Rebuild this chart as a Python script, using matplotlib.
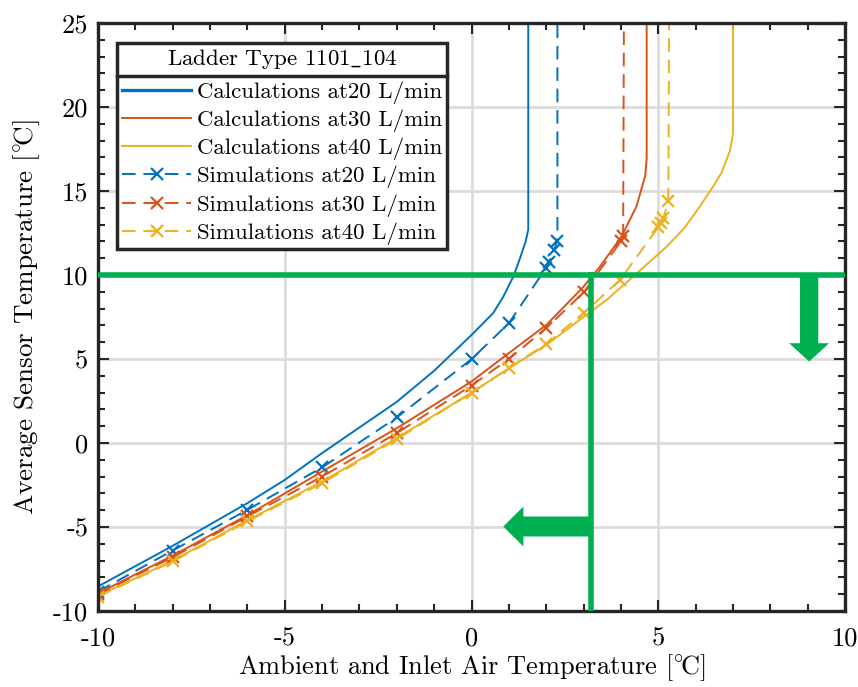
import numpy as np
import matplotlib.pyplot as plt
from matplotlib.patches import FancyArrow
from matplotlib.lines import Line2D

plt.rcParams['font.family'] = 'serif'
plt.rcParams['font.serif'] = ['cmr10']
plt.rcParams['mathtext.fontset'] = 'cm'
plt.rcParams['axes.unicode_minus'] = False

# Calculations (solid lines)
calc20_x = [-10, -8, -6, -5, -4, -2, -1, 0, 0.58, 0.85, 1.12, 1.3, 1.45, 1.52, 1.52]
calc20_y = [-8.54, -6.12, -3.58, -2.2, -0.6, 2.45, 4.3, 6.43, 7.73, 8.7, 9.91, 11.0, 12.0, 12.7, 25]
calc30_x = [-10, -8, -6, -4, -2, 0, 0.94, 2.01, 2.99, 3.44, 4.02, 4.42, 4.65, 4.69, 4.69]
calc30_y = [-8.95, -6.7, -4.3, -1.7, 0.88, 3.66, 5.25, 7.04, 9.28, 10.5, 12.3, 14.1, 15.9, 16.9, 25]
calc40_x = [-10, -8, -6, -4, -2, 0, 0.94, 2.01, 3.08, 3.62, 4.33, 5.23, 5.7, 6.12, 6.45, 6.7, 6.92, 7.0, 7.0]
calc40_y = [-9.1, -7.0, -4.6, -2.3, 0.3, 3.0, 4.36, 5.85, 7.63, 8.52, 9.91, 11.7, 12.8, 14.1, 15.2, 16.1, 17.4, 18.4, 25]

# Simulations (dashed lines with markers), last point = vertical extension
sim20_x = [-10, -8, -6, -4, -2, 0, 1, 1.99, 2.08, 2.21, 2.3, 2.3]
sim20_y = [-8.84, -6.4, -3.98, -1.45, 1.52, 4.99, 7.13, 10.4, 10.8, 11.5, 12.05, 25]
sim30_x = [-10, -8, -6, -4, -2, 0, 1, 2, 3, 4.0, 4.06, 4.08]
sim30_y = [-9.0, -6.8, -4.37, -2.0, 0.59, 3.42, 5.0, 6.84, 8.96, 12.0, 12.3, 25]
sim40_x = [-10, -8, -6, -4, -2, 0, 1, 2, 3, 3.98, 5.0, 5.07, 5.14, 5.27, 5.29]
sim40_y = [-9.15, -7.05, -4.67, -2.39, 0.23, 2.97, 4.46, 5.9, 7.73, 9.71, 12.85, 13.1, 13.4, 14.4, 25]

labels = ['Calculations at20 L/min', 'Calculations at30 L/min', 'Calculations at40 L/min',
          'Simulations at20 L/min', 'Simulations at30 L/min', 'Simulations at40 L/min']

# green guide lines and arrows
guide_h_x = [-10, 10]
guide_h_y = [10, 10]
guide_v_x = [3.2, 3.2]
guide_v_y = [10, -10]
arrow_down = (9.04, 10, 4.85)    # x, y start, y end
arrow_left = (3.2, -4.97, 0.85)  # x start, y, x end

x_ticks = [-10, -5, 0, 5, 10]
y_ticks = [-10, -5, 0, 5, 10, 15, 20, 25]

c20 = '#0072BD'
c30 = '#D95319'
c40 = '#EDB120'
green = '#00B050'

fig = plt.figure(figsize=(8.58, 6.87), dpi=100)
ax = fig.add_axes([98 / 858, 1 - 611 / 687, 747 / 858, 588 / 687])

h = []
for xs, ys, c in [(calc20_x, calc20_y, c20), (calc30_x, calc30_y, c30), (calc40_x, calc40_y, c40)]:
    l, = ax.plot(xs, ys, color=c, lw=1.4)
    h.append(l)
for xs, ys, c in [(sim20_x, sim20_y, c20), (sim30_x, sim30_y, c30), (sim40_x, sim40_y, c40)]:
    l, = ax.plot(xs, ys, color=c, lw=1.4, dashes=(7, 4), marker='x', ms=9, mew=1.6,
                 markevery=list(range(len(xs) - 1)))
    h.append(l)

ax.plot(guide_h_x, guide_h_y, color=green, lw=4, zorder=5)
ax.plot(guide_v_x, guide_v_y, color=green, lw=4, zorder=5)
ax.add_patch(FancyArrow(arrow_down[0], arrow_down[1], 0, arrow_down[2] - arrow_down[1],
                        width=0.49, head_width=1.07, head_length=1.09,
                        length_includes_head=True, color=green, lw=0, zorder=6))
ax.add_patch(FancyArrow(arrow_left[0], arrow_left[1], arrow_left[2] - arrow_left[0], 0,
                        width=1.19, head_width=2.38, head_length=0.54,
                        length_includes_head=True, color=green, lw=0, zorder=6))

ax.set_xlim(-10, 10)
ax.set_ylim(-10, 25)
ax.set_xticks(x_ticks)
ax.set_xticklabels([str(v) for v in x_ticks])
ax.set_yticks(y_ticks)
ax.set_yticklabels([str(v) for v in y_ticks])
ax.set_xticks(np.arange(-10, 11, 1), minor=True)
ax.set_yticks(np.arange(-10, 26, 1), minor=True)
ax.tick_params(which='both', direction='in', top=True, right=True, width=1.5, color='#262626')
ax.tick_params(which='major', length=8, labelsize=19)
ax.tick_params(which='minor', length=5)
ax.tick_params(axis='x', pad=11)
ax.tick_params(axis='y', pad=7)
ax.grid(True, which='major', color='#dcdcdc', lw=2)
ax.set_axisbelow(True)
for s in ax.spines.values():
    s.set_linewidth(2.4)
    s.set_color('#262626')

ax.set_xlabel(r'Ambient and Inlet Air Temperature $[{}^{\circ}\!\mathrm{C}]$', fontsize=19)
ax.set_ylabel(r'Average Sensor Temperature $[{}^{\circ}\!\mathrm{C}]$', fontsize=19.5)
ax.xaxis.set_label_coords(0.5, -0.07)
ax.yaxis.set_label_coords(-0.075, 0.5)

leg = ax.legend(h, labels, loc='upper left', bbox_to_anchor=(0.0254, 0.9665), borderaxespad=0,
                title=r'Ladder Type 1101$\_$104', fontsize=16.5, title_fontsize=16.5,
                frameon=True, fancybox=False, edgecolor='#262626', framealpha=1,
                handlelength=3.05, handletextpad=0.25, labelspacing=0.25, borderpad=0.2)
leg.get_frame().set_linewidth(2.5)
leg.legend_handles[0].set_linewidth(2.4)
leg.set_zorder(10)
# a bit more room between the title and the entries
leg._legend_box.sep = 0.25 * 16.5 + 3

# separator line under the legend title
fig.canvas.draw()
r = fig.canvas.get_renderer()
bl = leg.get_frame().get_window_extent(r)
bt = leg.get_title().get_window_extent(r)
b1 = leg.get_texts()[0].get_window_extent(r)
ysep = ((bt.y0 + bt.y1) / 2 + (b1.y0 + b1.y1) / 2) / 2
inv = fig.transFigure.inverted()
(x0, y0), (x1, y1) = inv.transform([(bl.x0, ysep), (bl.x1, ysep)])
fig.add_artist(Line2D([x0, x1], [y0, y1], color='#262626', lw=2.5, zorder=11))

fig.savefig('out.png', dpi=100)
